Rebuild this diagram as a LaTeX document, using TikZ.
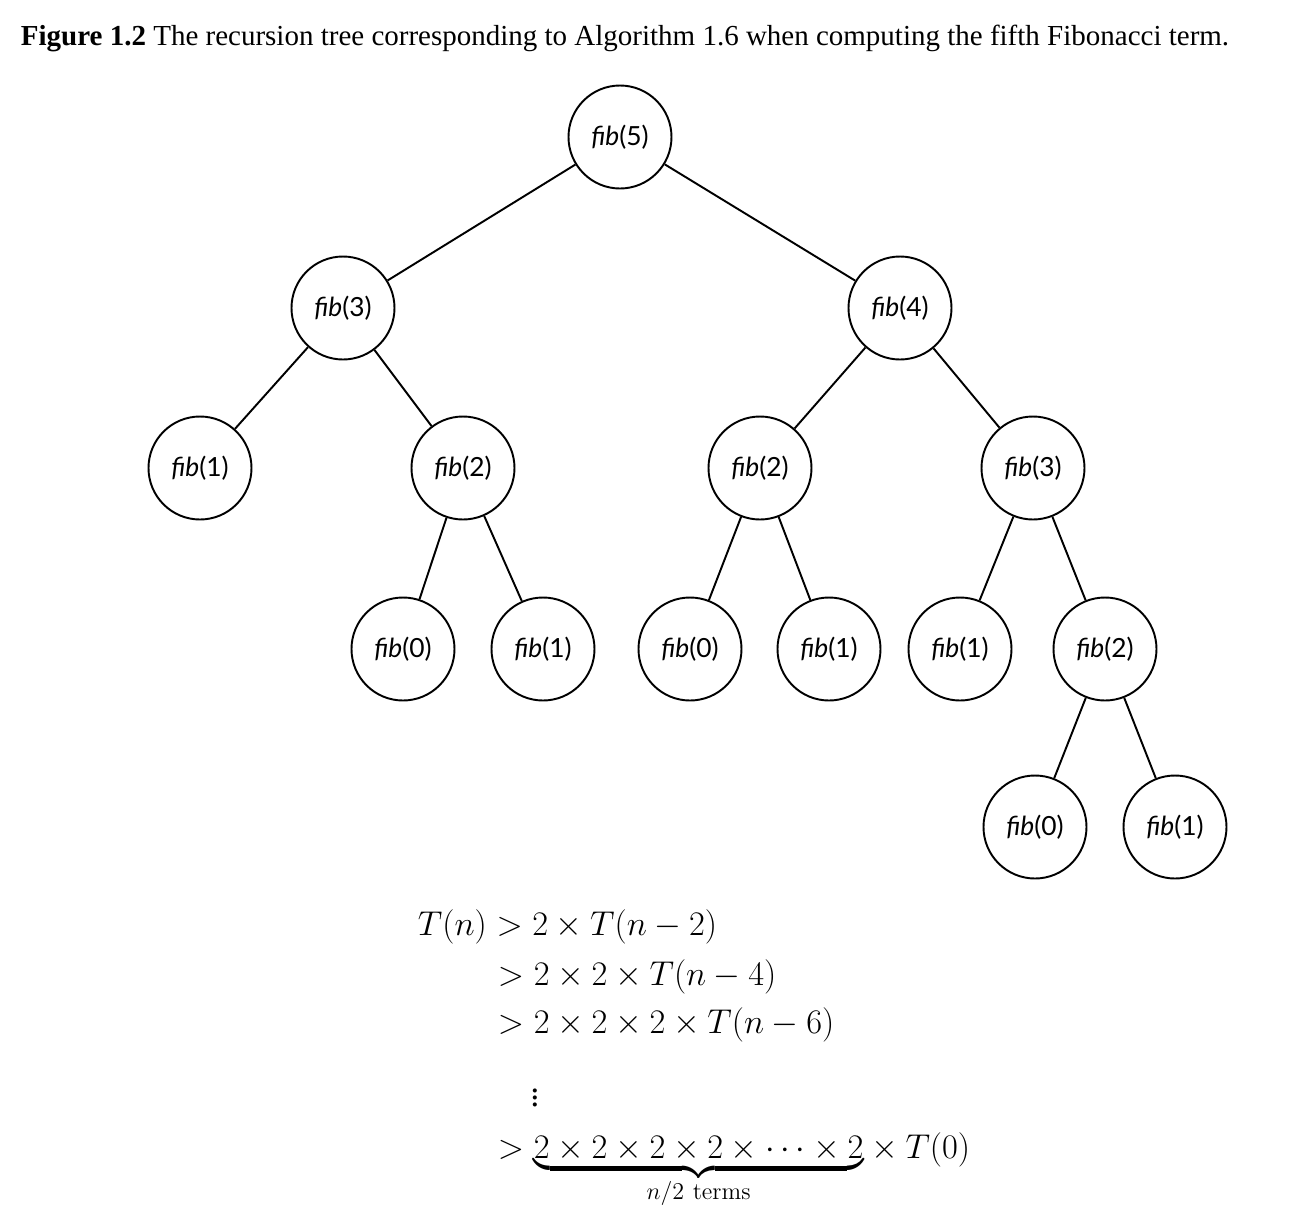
\RequirePackage{fix-cm}
\documentclass[tikz,border=0pt]{standalone}
\usepackage{amsmath}
\usepackage[no-math]{fontspec}
\setmainfont{Liberation Serif}
\newfontfamily\nodefont{Lato}
\begin{document}
\begin{tikzpicture}[
        line width=1.1pt,
        % Stile per i nodi dell'albero
        fibnode/.style={
            draw,
            circle,
            minimum size=2.06cm,
            inner sep=0pt,
            font=\nodefont\fontsize{15}{18}\selectfont
        },
        % Stile per le righe della disuguaglianza
        eqline/.style={
            anchor=base west,
            inner sep=0pt,
            font=\fontsize{19.6}{24}\selectfont
        }
    ]

    \useasboundingbox (0,0) rectangle (26.08,-24.44);

    % --- Didascalia ---
    \node[anchor=base west, inner sep=0pt, font=\fontsize{16.5}{20}\selectfont] (cap) at (0.40,-0.90)
        {\textbf{Figure 1.2} The recursion tree corresponding to Algorithm 1.6 when computing the fifth Fibonacci term.};

    % --- Albero della ricorsione ---
    \node[fibnode] (F5) at (12.40,-2.74) {\textit{fib}(5)};
    \node[fibnode] (F3) at (6.86,-6.16) {\textit{fib}(3)};
    \node[fibnode] (F4) at (18.00,-6.16) {\textit{fib}(4)};

    \node[fibnode] (F3a) at (4.00,-9.36) {\textit{fib}(1)};
    \node[fibnode] (F3b) at (9.26,-9.36) {\textit{fib}(2)};
    \node[fibnode] (F4a) at (15.20,-9.36) {\textit{fib}(2)};
    \node[fibnode] (F4b) at (20.66,-9.36) {\textit{fib}(3)};

    \node[fibnode] (F3ba) at (8.06,-12.98) {\textit{fib}(0)};
    \node[fibnode] (F3bb) at (10.86,-12.98) {\textit{fib}(1)};
    \node[fibnode] (F4aa) at (13.80,-12.98) {\textit{fib}(0)};
    \node[fibnode] (F4ab) at (16.58,-12.98) {\textit{fib}(1)};
    \node[fibnode] (F4ba) at (19.20,-12.98) {\textit{fib}(1)};
    \node[fibnode] (F4bb) at (22.10,-12.98) {\textit{fib}(2)};

    \node[fibnode] (F4bba) at (20.70,-16.54) {\textit{fib}(0)};
    \node[fibnode] (F4bbb) at (23.50,-16.54) {\textit{fib}(1)};

    % Archi
    \draw (F5) -- (F3);
    \draw (F5) -- (F4);
    \draw (F3) -- (F3a);
    \draw (F3) -- (F3b);
    \draw (F4) -- (F4a);
    \draw (F4) -- (F4b);
    \draw (F3b) -- (F3ba);
    \draw (F3b) -- (F3bb);
    \draw (F4a) -- (F4aa);
    \draw (F4a) -- (F4ab);
    \draw (F4b) -- (F4ba);
    \draw (F4b) -- (F4bb);
    \draw (F4bb) -- (F4bba);
    \draw (F4bb) -- (F4bbb);

    % --- Disuguaglianza T(n) ---
    \node[eqline] (E1) at (8.34,-18.70) {$T(n) > 2\times T(n-2)$};
    \node[eqline] (E2) at (9.94,-19.70) {$> 2\times 2\times T(n-4)$};
    \node[eqline] (E3) at (9.94,-20.66) {$> 2\times 2\times 2\times T(n-6)$};
    \node[font=\fontsize{19.6}{24}\selectfont, inner sep=0pt] (E4) at (10.70,-21.86) {$\vdots$};
    \node[eqline] (E5) at (9.94,-23.16)
        {$> {\underbrace{2\times 2\times 2\times 2\times \cdots\times 2}_{n/2\ \mathrm{terms}}}\times T(0)$};

\end{tikzpicture}
\end{document}
